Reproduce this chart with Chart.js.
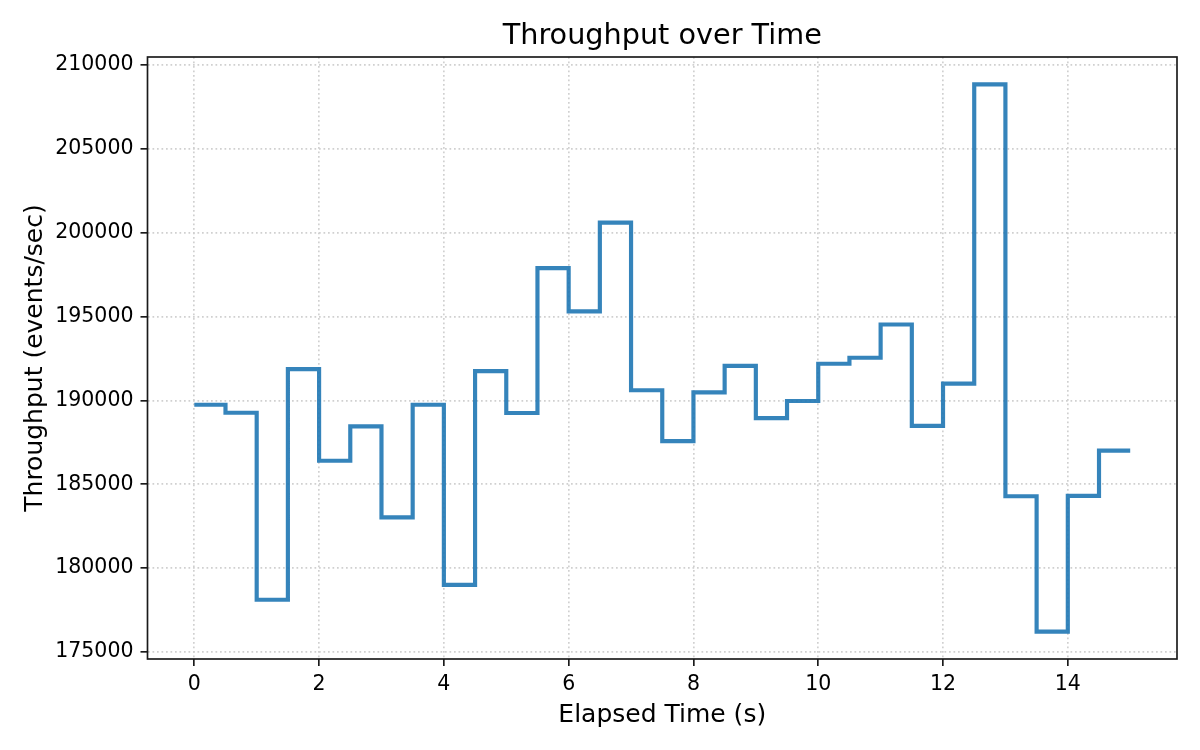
<!DOCTYPE html>
<html>
<head>
<meta charset="utf-8">
<script src="https://cdn.jsdelivr.net/npm/chart.js@4.4.0/dist/chart.umd.min.js"></script>
<style>
  html, body { margin: 0; padding: 0; background: #ffffff; }
  #wrap { width: 1200px; height: 750px; }
</style>
</head>
<body>
<div id="wrap"><canvas id="c" width="1200" height="750"></canvas></div>
<script>
const elapsedTime = [0, 0.5, 1, 1.5, 2, 2.5, 3, 3.5, 4, 4.5, 5, 5.5, 6, 6.5, 7, 7.5,
  8, 8.5, 9, 9.5, 10, 10.5, 11, 11.5, 12, 12.5, 13, 13.5, 14, 14.5, 15];
const throughput = [189740, 189260, 178110, 191860, 186400, 188450, 183020, 189740,
  179000, 191740, 189245, 197880, 195300, 200600, 190600, 187565,
  190480, 192060, 188940, 189960, 192180, 192540, 194520, 188480,
  191000, 208840, 184280, 176210, 184300, 187000, 187000];
const xTicks = [0, 2, 4, 6, 8, 10, 12, 14];
const yTicks = [175000, 180000, 185000, 190000, 195000, 200000, 205000, 210000];
const chartTitle = 'Throughput over Time';

const FONT = "'DejaVu Sans', sans-serif";
const xMin = Math.min(...elapsedTime), xMax = Math.max(...elapsedTime);
const yMin = Math.min(...throughput), yMax = Math.max(...throughput);
const xPad = (xMax - xMin) * 0.05, yPad = (yMax - yMin) * 0.05;

const frame = {
  id: 'frame',
  afterDatasetsDraw(chart) {
    const a = chart.chartArea, ctx = chart.ctx;
    ctx.save();
    ctx.strokeStyle = '#1a1a1a';
    ctx.lineWidth = 1.67;
    ctx.setLineDash([]);
    ctx.strokeRect(a.left, a.top, a.right - a.left, a.bottom - a.top);
    ctx.fillStyle = '#000';
    ctx.font = '28.7px ' + FONT;
    ctx.textAlign = 'center';
    ctx.textBaseline = 'alphabetic';
    ctx.fillText(chartTitle, (a.left + a.right) / 2, a.top - 13);
    ctx.restore();
  }
};

const gridOpts = {
  color: '#d0d0d0', lineWidth: 1.67,
  tickColor: '#1a1a1a', tickWidth: 1.67, tickLength: 7, tickBorderDash: []
};
const borderOpts = { display: false, dash: [1.7, 2.8] };

new Chart(document.getElementById('c'), {
  type: 'line',
  data: {
    datasets: [{
      data: elapsedTime.map((x, i) => ({ x: x, y: throughput[i] })),
      stepped: 'before',
      borderColor: 'rgba(31,119,180,0.9)',
      borderWidth: 4.17,
      pointRadius: 0,
      fill: false,
      borderJoinStyle: 'miter',
      borderCapStyle: 'butt'
    }]
  },
  options: {
    responsive: false,
    animation: false,
    devicePixelRatio: 1,
    layout: { padding: { left: 0, right: 23, top: 57, bottom: 0 } },
    plugins: {
      legend: { display: false },
      tooltip: { enabled: false },
      title: { display: false }
    },
    scales: {
      x: {
        type: 'linear',
        min: xMin - xPad,
        max: xMax + xPad,
        afterFit(s) { s.height = 91; },
        afterBuildTicks(s) { s.ticks = xTicks.map(v => ({ value: v })); },
        ticks: {
          autoSkip: false, maxRotation: 0,
          color: '#000',
          font: { family: FONT, size: 20.5 },
          padding: 6,
          callback: v => String(v)
        },
        grid: gridOpts,
        border: borderOpts,
        title: {
          display: true, text: 'Elapsed Time (s)', color: '#000',
          font: { family: FONT, size: 25 },
          padding: { top: 0, bottom: 20 }
        }
      },
      y: {
        type: 'linear',
        min: yMin - yPad,
        max: yMax + yPad,
        afterFit(s) { s.width = 147.5; },
        afterBuildTicks(s) { s.ticks = yTicks.map(v => ({ value: v })); },
        ticks: {
          autoSkip: false,
          color: '#000',
          font: { family: FONT, size: 20.5 },
          padding: 7,
          callback: v => String(v)
        },
        grid: gridOpts,
        border: borderOpts,
        title: {
          display: true, text: 'Throughput (events/sec)', color: '#000',
          font: { family: FONT, size: 25 },
          padding: { top: 20, bottom: 0 }
        }
      }
    }
  },
  plugins: [frame]
});
</script>
</body>
</html>
